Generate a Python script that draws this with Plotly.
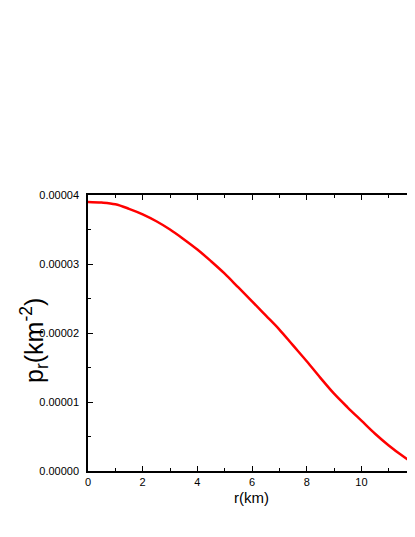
import plotly.graph_objects as go

# radial pressure profile
r_km = [0, 0.5, 1, 1.5, 2, 2.5, 3, 3.5, 4, 4.5, 5, 5.5, 6,
        6.5, 7, 7.5, 8, 8.5, 9, 9.5, 10, 10.5, 11, 11.5, 12]
p_r = [3.900e-5, 3.890e-5, 3.865e-5, 3.800e-5, 3.720e-5, 3.620e-5, 3.500e-5,
       3.360e-5, 3.210e-5, 3.040e-5, 2.860e-5, 2.660e-5, 2.460e-5, 2.255e-5,
       2.050e-5, 1.820e-5, 1.590e-5, 1.350e-5, 1.120e-5, 0.920e-5, 0.730e-5,
       0.540e-5, 0.370e-5, 0.220e-5, 0.090e-5]

x_ticks = [0, 2, 4, 6, 8, 10]
y_ticks = [0, 1e-5, 2e-5, 3e-5, 4e-5]
y_tick_text = ["0.00000", "0.00001", "0.00002", "0.00003", "0.00004"]

FONT = "Liberation Sans, Arial, sans-serif"

fig = go.Figure()
fig.add_trace(go.Scatter(
    x=r_km, y=p_r, mode="lines", line=dict(color="#ff0000", width=2.5, shape="spline"),
    showlegend=False,
))

axis_common = dict(
    showline=True, linecolor="black", linewidth=1.5,
    ticks="inside", ticklen=5, tickwidth=1.2, tickcolor="black",
    showgrid=False, zeroline=False, automargin=False,
    tickfont=dict(family=FONT, size=11, color="black"),
)

# the reference is cropped just before r = 12 on the right
fig.update_xaxes(
    range=[0, 11.96], tickvals=x_ticks, mirror="allticks",
    minor=dict(ticks="inside", ticklen=3, tickwidth=1.2, tickcolor="black", dtick=1, showgrid=False),
    title=dict(text="r(km)", font=dict(family=FONT, size=15, color="black"), standoff=6),
    **axis_common,
)
fig.update_yaxes(
    range=[0, 4e-5], tickvals=y_ticks, ticktext=y_tick_text, ticklabelstandoff=5,
    mirror=False,
    minor=dict(ticks="inside", ticklen=3, tickwidth=1.2, tickcolor="black", dtick=5e-6, showgrid=False),
    **axis_common,
)

# the "12" tick label sits half outside the picture
fig.add_annotation(
    text="12", xref="paper", yref="paper", x=1, y=0, xshift=2, yshift=-4,
    xanchor="center", yanchor="top", showarrow=False,
    font=dict(family=FONT, size=11, color="black"),
)

# y title placed by hand (large, left of the tick labels)
fig.add_annotation(
    text="p<sub>r</sub>(km<sup>-2</sup>)", xref="paper", yref="paper",
    x=0, y=0.5, xshift=-54, yshift=-8, xanchor="center", yanchor="middle",
    textangle=-90, showarrow=False, font=dict(family=FONT, size=25, color="black"),
)

# page body has an 8px margin, so the figure is shifted/shrunk by 8px
fig.update_layout(
    width=407, height=500,
    margin=dict(l=80, r=0, t=187, b=37),
    paper_bgcolor="white", plot_bgcolor="white",
)

fig.write_html("out.html")
